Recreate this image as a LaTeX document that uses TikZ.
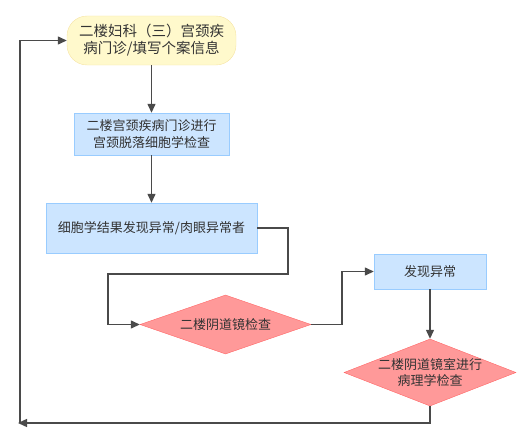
\documentclass[tikz,border=0pt]{standalone}
\usepackage{fontspec}
\newfontfamily\cjk{Noto Sans CJK SC}
\usetikzlibrary{shapes.geometric,arrows.meta}
\definecolor{lineclr}{HTML}{4A4A4A}
\definecolor{txtclr}{HTML}{333333}
\definecolor{startfill}{HTML}{FFF9CC}
\definecolor{startdraw}{HTML}{F6E4A6}
\definecolor{boxfill}{HTML}{CCE5FF}
\definecolor{boxdraw}{HTML}{99CCFF}
\definecolor{decfill}{HTML}{FF9999}
\definecolor{decdraw}{HTML}{FF6666}
\begin{document}
\begin{tikzpicture}[x=1pt,y=-1pt,
  startbox/.style={draw=startdraw, fill=startfill, rounded corners=20pt, align=center, inner sep=0pt, text=txtclr, font=\cjk\fontsize{14.5}{17}\selectfont},
  procbox/.style={draw=boxdraw, fill=boxfill, align=center, inner sep=0pt, text=txtclr, font=\cjk\fontsize{13}{16.5}\selectfont},
  decbox/.style={diamond, draw=decdraw, fill=decfill, align=center, inner sep=0pt, text=txtclr, font=\cjk\fontsize{13}{16.5}\selectfont},
  link/.style={draw=lineclr, line width=1.3pt, -{Triangle[length=9pt,width=8pt]}}]
\useasboundingbox (0,0) rectangle (532,436);
\node[startbox, minimum width=169pt, minimum height=49pt] (s) at (151.5,40.5) {二楼妇科（三）宫颈疾\\病门诊/填写个案信息};
\node[procbox, minimum width=155pt, minimum height=42pt] (b2) at (151.5,134) {二楼宫颈疾病门诊进行\\宫颈脱落细胞学检查};
\node[procbox, minimum width=211pt, minimum height=50pt] (b3) at (151.5,228) {细胞学结果发现异常/肉眼异常者};
\node[decbox, aspect=2.9, minimum width=171pt, minimum height=59pt] (d1) at (225.5,324.5) {二楼阴道镜检查};
\node[procbox, minimum width=112pt, minimum height=35pt] (b4) at (430,271.5) {发现异常};
\node[decbox, aspect=2.57, minimum width=172pt, minimum height=67pt, inner xsep=-6pt] (d2) at (430,372.5) {二楼阴道镜室进行\\病理学检查};
\coordinate (k1) at (288,274);
\coordinate (k2) at (108,274);
\coordinate (k3) at (342,300);
\coordinate (ret) at (18,423);
\draw[link] (s) -- (b2);
\draw[link] (b2) -- (b3);
\draw[link] (b3.east) -| (k1) -- (k2) |- (d1.west);
\draw[link] (d1.east) -| (k3) |- (b4.west);
\draw[link] (b4) -- (d2);
\draw[link] (d2.south) |- (ret);
\draw[link] (ret) ++(2,0) |- (s.west);
\end{tikzpicture}
\end{document}
